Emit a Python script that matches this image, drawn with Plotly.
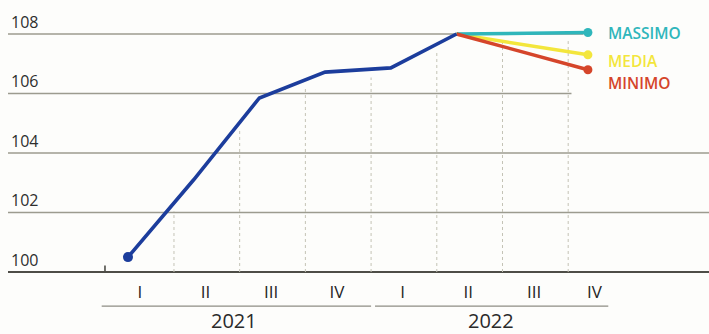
import numpy as np
import plotly.graph_objects as go

# Quarterly index (2021-I = 100) and forecast range for end of 2022
quarters = ["I", "II", "III", "IV", "I", "II", "III", "IV"]
years = ["2021", "2022"]
hist_idx = [0, 1, 2, 3, 4, 5]
hist_vals = [100.5, 103.1, 105.85, 106.72, 106.86, 108.0]

fc_idx = [5, 7]
fc_max = [108.0, 108.05]
fc_mid = [108.0, 107.3]
fc_min = [108.0, 106.8]

y_ticks = [100, 102, 104, 106, 108]

FONT = "Open Sans"
BLUE = "#1c3d9c"
TEAL = "#2fb6bb"
YELLOW = "#f3e63c"
RED = "#d5452a"
GRID = "#9c9b8f"

fig = go.Figure()

# drop lines under the curve, between quarters
envelope_x = hist_idx + [7]
envelope_y = hist_vals + [fc_max[-1]]
shapes = []
for k in range(7):
    xv = k + 0.7
    top = float(np.interp(xv, envelope_x, envelope_y)) - 0.28
    shapes.append(dict(type="line", xref="x", yref="y", x0=xv, x1=xv, y0=100, y1=top,
                       line=dict(color="#c4c3b6", width=1, dash="dot"), layer="below"))

# horizontal grid lines (the two upper ones stop at the forecast)
for v in y_ticks[1:]:
    x_end = {106: 6.75, 108: 6.93}.get(v)
    if x_end is None:
        shapes.append(dict(type="line", xref="paper", yref="y", x0=0, x1=1, y0=v, y1=v,
                           line=dict(color=GRID, width=1.3), layer="below"))
    else:
        shapes.append(dict(type="line", xref="x", yref="y", x0=-1.826, x1=x_end, y0=v, y1=v,
                           line=dict(color=GRID, width=1.3), layer="below"))

# base line at 100 and its small tick
shapes.append(dict(type="line", xref="paper", yref="y", x0=0, x1=1, y0=100, y1=100,
                   line=dict(color="#4e4d47", width=2.2), layer="below"))
shapes.append(dict(type="line", xref="x", yref="y", x0=-0.35, x1=-0.35, y0=100, y1=100.22,
                   line=dict(color="#4e4d47", width=1.6), layer="below"))

# year brackets under the quarter labels
year_spans = [(-0.40, 3.70), (3.76, 7.31)]
year_centers = [1.61, 5.52]
for (a, b) in year_spans:
    shapes.append(dict(type="line", xref="x", yref="paper", x0=a, x1=b, y0=-0.093, y1=-0.093,
                       line=dict(color="#8e8d84", width=1.2)))

annotations = []
for yr, c in zip(years, year_centers):
    annotations.append(dict(x=c, y=-0.144, xref="x", yref="paper", text=yr, showarrow=False,
                            yanchor="middle",
                            font=dict(family=FONT, size=20, color="#2a2a2a")))

# forecast series labels
for name, yv, col in [("MASSIMO", 108.05, TEAL), ("MEDIA", 107.1, YELLOW), ("MINIMO", 106.35, RED)]:
    annotations.append(dict(x=7.28, y=yv, xref="x", yref="y", text=name, showarrow=False,
                            xanchor="left",
                            font=dict(family=FONT, size=15.5, color=col, weight=600)))

# forecast lines
for vals, col in [(fc_mid, YELLOW), (fc_max, TEAL), (fc_min, RED)]:
    fig.add_trace(go.Scatter(x=fc_idx, y=vals, mode="lines",
                             line=dict(color=col, width=3.5), hoverinfo="skip"))
    fig.add_trace(go.Scatter(x=fc_idx[-1:], y=vals[-1:], mode="markers",
                             marker=dict(color=col, size=9), hoverinfo="skip"))

# observed series
fig.add_trace(go.Scatter(x=hist_idx, y=hist_vals, mode="lines",
                         line=dict(color=BLUE, width=3.6), hoverinfo="skip"))
fig.add_trace(go.Scatter(x=hist_idx[:1], y=hist_vals[:1], mode="markers",
                         marker=dict(color=BLUE, size=10), hoverinfo="skip"))

tick_pos = [i + 0.18 for i in range(7)] + [7.1]

fig.update_layout(
    width=709, height=334,
    margin=dict(l=8, r=0, t=0, b=54),
    paper_bgcolor="#fdfdfb", plot_bgcolor="#fdfdfb",
    showlegend=False,
    shapes=shapes,
    annotations=annotations,
    xaxis=dict(range=[-1.826, 8.843], showgrid=False, zeroline=False, showline=False,
               tickmode="array", tickvals=tick_pos, ticktext=quarters, ticks="",
               tickfont=dict(family=FONT, size=17, color="#252525")),
    yaxis=dict(range=[99.731, 109.143], showgrid=False, zeroline=False, showline=False,
               tickmode="array", tickvals=y_ticks, ticks="",
               ticklabelposition="inside", ticklabelshift=-12,
               tickfont=dict(family=FONT, size=16, color="#2e2e2e")),
)

fig.write_html("out.html")
